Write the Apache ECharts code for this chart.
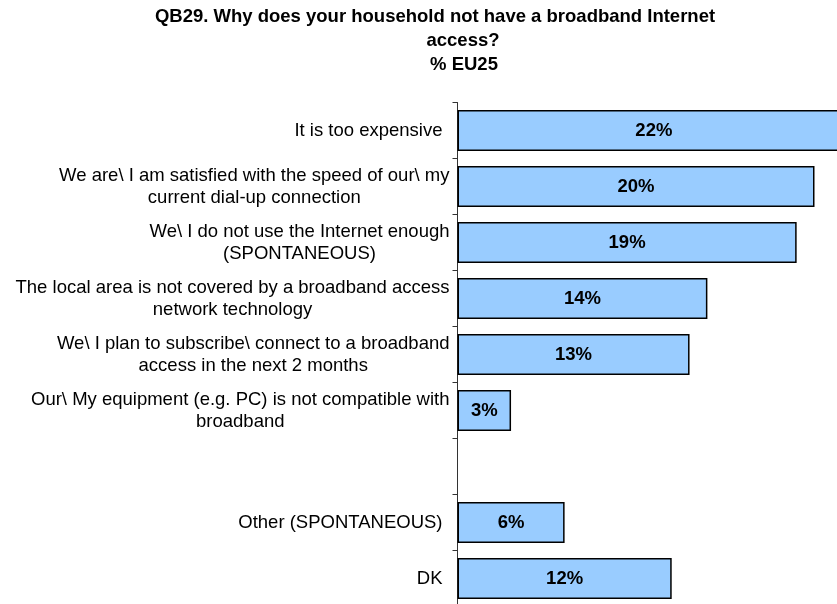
<!DOCTYPE html>
<html>
<head>
<meta charset="utf-8">
<style>
  html, body { margin: 0; padding: 0; background: #ffffff; }
  #chart { width: 837px; height: 604px; }
</style>
<script src="https://cdn.jsdelivr.net/npm/echarts@6/dist/echarts.min.js"></script>
</head>
<body>
<div id="chart"></div>
<script>
// Reasons for not having broadband, top to bottom; the empty entry is a spacer row
const categories = [
  'It is too expensive',
  'We are\\ I am satisfied with the speed of our\\ my\ncurrent dial-up connection',
  'We\\ I do not use the Internet enough\n(SPONTANEOUS)',
  'The local area is not covered by a broadband access\nnetwork technology',
  'We\\ I plan to subscribe\\ connect to a broadband\naccess in the next 2 months',
  'Our\\ My equipment (e.g. PC) is not compatible with\nbroadband',
  '',
  'Other (SPONTANEOUS)',
  'DK'
];
// Share of EU25 households, percent
const values = [22, 20, 19, 14, 13, 3, null, 6, 12];

const titleLines = [
  'QB29. Why does your household not have a broadband Internet',
  'access?',
  '% EU25'
];

const chart = echarts.init(document.getElementById('chart'), null, { renderer: 'canvas' });

const FONT = '"Liberation Sans", Arial, Helvetica, sans-serif';
const titleStyle = {
  fontFamily: FONT,
  fontSize: 18.5,
  fontWeight: 'bold',
  color: '#000000'
};
const labelText = {
  align: 'center',
  fontFamily: FONT,
  fontSize: 18.5,
  lineHeight: 22,
  color: '#000000'
};

chart.setOption({
  animation: false,
  backgroundColor: '#ffffff',
  title: [
    { text: titleLines[0], left: 435, top: 7, textAlign: 'center', padding: 0, textStyle: titleStyle },
    { text: titleLines[1], left: 463, top: 31, textAlign: 'center', padding: 0, textStyle: titleStyle },
    { text: titleLines[2], left: 464, top: 55, textAlign: 'center', padding: 0, textStyle: titleStyle }
  ],
  // the plot runs past the right and bottom edges of the page
  grid: {
    left: 457.5,
    width: 446.25,
    top: 102.5,
    height: 504,
    containLabel: false,
    outerBoundsMode: 'none'
  },
  xAxis: {
    type: 'value',
    min: 0,
    max: 25,
    show: false
  },
  yAxis: {
    type: 'category',
    data: categories,
    inverse: true,
    axisLine: { show: true, lineStyle: { color: '#333333', width: 1 } },
    axisTick: { show: true, inside: false, length: 5, lineStyle: { color: '#333333', width: 1 } },
    splitLine: { show: false },
    axisLabel: {
      margin: 8,
      align: 'right',
      fontFamily: FONT,
      fontSize: 18.5,
      color: '#000000',
      lineHeight: 22,
      formatter: function (v) {
        const lines = v.split('\n');
        // single-line captions sit a little further from the axis
        const key = lines.length > 1 ? 'c' : 's';
        return lines.map(function (l) { return '{' + key + '|' + l + '}'; }).join('\n');
      },
      rich: {
        c: labelText,
        s: Object.assign({}, labelText, { padding: [0, 7, 0, 0] })
      }
    }
  },
  series: [{
    type: 'bar',
    data: values,
    barCategoryGap: '27%',
    clip: false,
    itemStyle: {
      color: '#99CCFF',
      borderColor: '#000000',
      borderWidth: 1.5
    },
    label: {
      show: true,
      position: 'inside',
      formatter: '{c}%',
      fontFamily: FONT,
      fontSize: 18.5,
      fontWeight: 'bold',
      color: '#000000'
    }
  }]
});
</script>
</body>
</html>
